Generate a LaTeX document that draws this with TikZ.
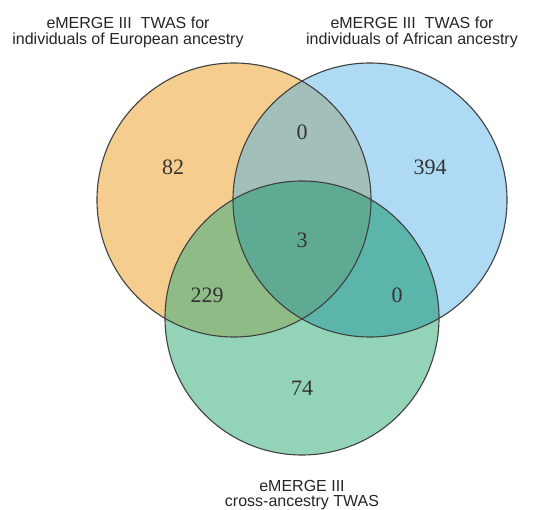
\documentclass[tikz,border=0pt]{standalone}
\usepackage{fontspec}
\setmainfont{Liberation Serif}
\newfontfamily\labfont{Liberation Sans}
\begin{document}
\begin{tikzpicture}[x=1pt,y=-1pt,
  title/.style={font=\labfont\fontsize{16}{15.5}\selectfont, align=center, inner sep=0pt, text=black!85},
  num/.style={font=\fontsize{22}{22}\selectfont, inner sep=0pt, text=black!80},
  ring/.style={draw=black!75, line width=1.1pt}]
\useasboundingbox (0,0) rectangle (555,510);
\fill[white] (0,0) rectangle (555,510);
\definecolor{cEur}{HTML}{F5CD8E}
\definecolor{cAfr}{HTML}{AEDAF4}
\definecolor{cCross}{HTML}{93D3B8}
\definecolor{cEA}{HTML}{A3BFB9}
\definecolor{cEC}{HTML}{8FBB86}
\definecolor{cAC}{HTML}{5BB5AA}
\definecolor{cAll}{HTML}{5EAA93}
\coordinate (A) at (234,200);
\coordinate (B) at (370,200);
\coordinate (C) at (302,318);
\def\R{137pt}
\fill[cEur] (A) circle[radius=\R];
\fill[cAfr] (B) circle[radius=\R];
\fill[cCross] (C) circle[radius=\R];
\begin{scope}
  \clip (A) circle[radius=\R];
  \fill[cEA] (B) circle[radius=\R];
  \fill[cEC] (C) circle[radius=\R];
\end{scope}
\begin{scope}
  \clip (B) circle[radius=\R];
  \fill[cAC] (C) circle[radius=\R];
  \clip (A) circle[radius=\R];
  \fill[cAll] (C) circle[radius=\R];
\end{scope}
\draw[ring] (A) circle[radius=\R];
\draw[ring] (B) circle[radius=\R];
\draw[ring] (C) circle[radius=\R];
\node[title, anchor=base] (tE) at (128,44.5) {eMERGE III\ \ TWAS for\\individuals of European ancestry};
\node[title, anchor=base] (tA) at (412,44.5) {eMERGE III\ \ TWAS for\\individuals of African ancestry};
\node[title, anchor=base] (tC) at (302,507) {eMERGE III\\cross-ancestry TWAS};
\node[num] (n82) at (173,167) {82};
\node[num] (n394) at (430,167) {394};
\node[num] (n0a) at (302,132) {0};
\node[num] (n3) at (302,240) {3};
\node[num] (n229) at (207,295) {229};
\node[num] (n0b) at (397,295) {0};
\node[num] (n74) at (302,388) {74};
\end{tikzpicture}
\end{document}
